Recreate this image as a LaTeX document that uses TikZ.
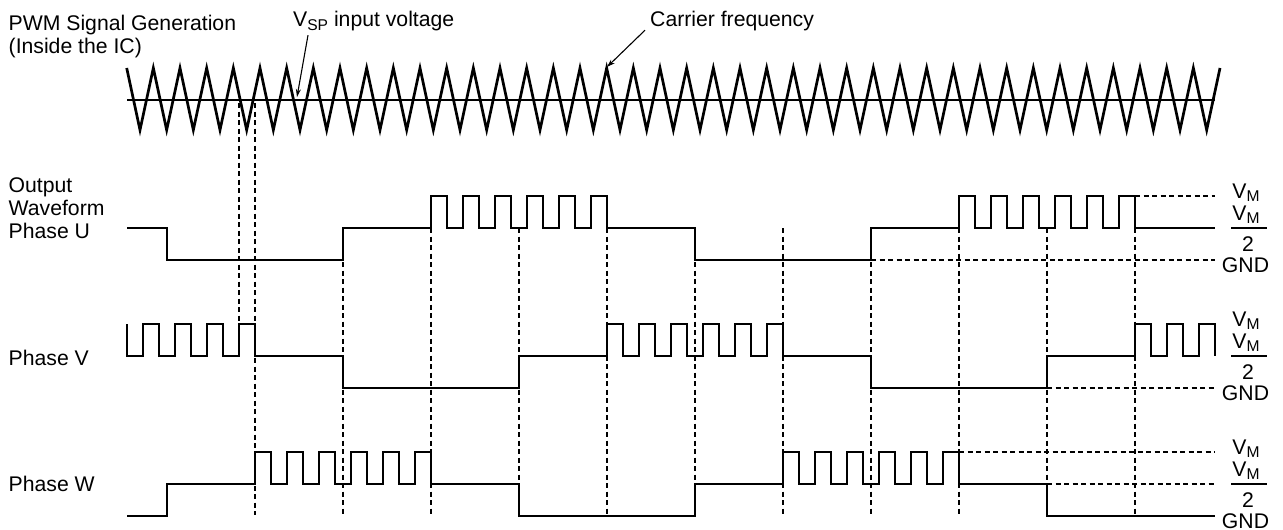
\documentclass[tikz,border=0pt]{standalone}
\usepackage{fontspec}
\setmainfont{Liberation Sans}
\usepackage{tikz}
\usetikzlibrary{arrows.meta}
\newcommand{\lowsub}[1]{\raisebox{-3.7pt}{\fontsize{15.6}{16}\selectfont #1}}

\begin{document}
\begin{tikzpicture}[x=1pt,y=-1pt,
    txt/.style={inner sep=0pt,anchor=base west,font=\fontsize{21.2}{23}\selectfont},
    lvl/.style={inner sep=0pt,anchor=base,font=\fontsize{21.2}{23}\selectfont},
    wave/.style={line width=2.7pt,line join=miter},
    guide/.style={line width=1.2pt,dash pattern=on 5pt off 3.5pt},
    >={Stealth[length=8pt,width=5pt]}]
  \useasboundingbox (0,0) rectangle (1283,530);
  \node[txt] (pwm) at (8.5,30.7) {PWM Signal Generation};
  \node[txt] (ic) at (8.5,53) {(Inside the IC)};
  \node[txt] (vsp) at (293,27) {V\lowsub{SP} input voltage};
  \node[txt] (carrier) at (650,27) {Carrier frequency};
  \node[txt] (out) at (8.5,192.3) {Output};
  \node[txt] (wform) at (8.5,215.3) {Waveform};
  \node[txt] (phu) at (8.5,238.3) {Phase U};
  \node[txt] (phv) at (8.5,365) {Phase V};
  \node[txt] (phw) at (8.5,491.7) {Phase W};
  \coordinate (vsptip) at (297,97);
  \coordinate (cartip) at (607,67);
  % carrier wave and V_SP level
  \draw[line width=1.4pt] (127,100) -- (1215,100);
  \draw[wave] (126.7,68) \foreach \k in {0,...,40} {-- ({140+26.667*\k},130) -- ({153.333+26.667*\k},68)};
  \path[->,line width=1.1pt]
    ([xshift=15pt,yshift=-3.6pt]vsp.south west) edge (vsptip)
    ([xshift=-5pt,yshift=1.4pt]carrier.south west) edge (cartip);
  % switching instants
  \draw[guide] (239,103) -- (239,324);
  \draw[guide] (255,103) -- (255,515);
  \foreach \x in {343,431,...,1135} \draw[guide] (\x,228) -- (\x,515);
  \draw[guide] (1135,196) -- (1215,196);
  \draw[guide] (871,260) -- (1215,260);
  \draw[guide] (1047,388) -- (1215,388);
  \draw[guide] (959,452) -- (1215,452);
  \draw[guide] (1047,484) -- (1215,484);
  % phase U
  \draw[wave] (127,228) -- (167,228) -- (167,260) -- (343,260) -- (343,228)
    \foreach \k in {0,...,5} {-- ({431+32*\k},228) -- ({431+32*\k},196) -- ({447+32*\k},196) -- ({447+32*\k},228)}
    -- (695,228) -- (695,260) -- (871,260) -- (871,228)
    \foreach \k in {0,...,5} {-- ({959+32*\k},228) -- ({959+32*\k},196) -- ({975+32*\k},196) -- ({975+32*\k},228)}
    -- (1215,228);
  % phase V
  \draw[wave] (127,324) -- (127,356)
    \foreach \k in {0,...,3} {-- ({143+32*\k},356) -- ({143+32*\k},324) -- ({159+32*\k},324) -- ({159+32*\k},356)}
    -- (343,356) -- (343,388) -- (519,388) -- (519,356)
    \foreach \k in {0,...,5} {-- ({607+32*\k},356) -- ({607+32*\k},324) -- ({623+32*\k},324) -- ({623+32*\k},356)}
    -- (871,356) -- (871,388) -- (1047,388) -- (1047,356)
    \foreach \k in {0,1,2} {-- ({1135+32*\k},356) -- ({1135+32*\k},324) -- ({1151+32*\k},324) -- ({1151+32*\k},356)};
  % phase W
  \draw[wave] (127,516) -- (167,516) -- (167,484)
    \foreach \k in {0,...,5} {-- ({255+32*\k},484) -- ({255+32*\k},452) -- ({271+32*\k},452) -- ({271+32*\k},484)}
    -- (519,484) -- (519,516) -- (695,516) -- (695,484)
    \foreach \k in {0,...,5} {-- ({783+32*\k},484) -- ({783+32*\k},452) -- ({799+32*\k},452) -- ({799+32*\k},484)}
    -- (1047,484) -- (1047,516) -- (1215,516);
  % levels
  \foreach \o/\n in {0/u,128/v,256/w} {
    \node[lvl] (vm\n) at (1246,{198+\o}) {V\lowsub{M}};
    \node[lvl] (half\n) at (1246,{220+\o}) {V\lowsub{M}};
    \draw[line width=1.3pt] (1231,{228+\o}) -- (1267,{228+\o});
    \node[lvl] (two\n) at (1248,{251+\o}) {2};
    \node[lvl] (gnd\n) at (1245.5,{272+\o}) {GND};
  }
\end{tikzpicture}
\end{document}
